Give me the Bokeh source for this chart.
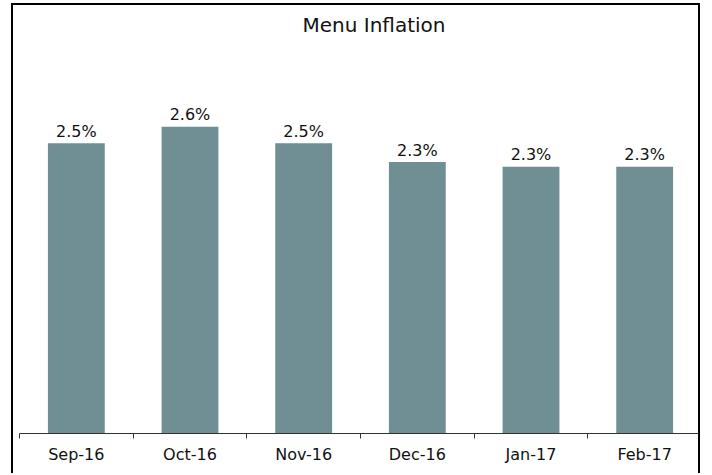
from bokeh.plotting import figure
from bokeh.models import ColumnDataSource, Range1d, LinearAxis, FixedTicker
from bokeh.core.properties import value
from bokeh.embed import file_html
from bokeh.resources import INLINE

months = ["Sep-16", "Oct-16", "Nov-16", "Dec-16", "Jan-17", "Feb-17"]
inflation = [2.46, 2.60, 2.46, 2.30, 2.26, 2.26]

centers = [i + 0.5 for i in range(len(months))]
bounds = [float(i) for i in range(len(months) + 1)]
labels = [f"{v:.1f}%" for v in inflation]

src = ColumnDataSource(dict(x=centers, v=inflation, label=labels))

FONT = "DejaVu Sans"

p = figure(
    width=689, height=470,
    margin=(3, 0, 0, 11),
    x_range=Range1d(0, len(months)), y_range=Range1d(0, 3.322),
    toolbar_location=None, output_backend="svg",
    x_axis_location=None, y_axis_location=None,
    min_border_left=6, min_border_right=1, min_border_top=35, min_border_bottom=42,
    title="Menu Inflation",
    styles={"border-top": "2px solid #000", "border-left": "2px solid #000",
            "border-right": "2px solid #000"},
)
p.outline_line_color = None
p.xgrid.visible = False
p.ygrid.visible = False
p.background_fill_color = "white"
p.border_fill_color = "white"

p.title.text_font = FONT
p.title.text_font_size = "20px"
p.title.text_font_style = "normal"
p.title.text_color = "#111111"
p.title.align = "left"
p.title.offset = 283
p.title.standoff = 10

p.vbar(x="x", top="v", width=0.5, bottom=0, source=src, fill_color="#6f8f94", line_color=None)
p.text(x="x", y="v", text="label", source=src, text_font=value(FONT), text_font_size="16px",
       text_align="center", text_baseline="alphabetic", y_offset=-12, text_color="#111111")

xaxis = LinearAxis(ticker=FixedTicker(ticks=centers, minor_ticks=bounds))
xaxis.major_label_overrides = {c: m for c, m in zip(centers, months)}
xaxis.major_tick_line_color = None
xaxis.minor_tick_in = 0
xaxis.minor_tick_out = 5
xaxis.minor_tick_line_color = "#333333"
xaxis.axis_line_color = "#333333"
xaxis.major_label_text_font = FONT
xaxis.major_label_text_font_size = "16px"
xaxis.major_label_text_color = "#111111"
xaxis.major_label_standoff = 5
p.add_layout(xaxis, "below")

open("out.html", "w").write(file_html(p, INLINE))
